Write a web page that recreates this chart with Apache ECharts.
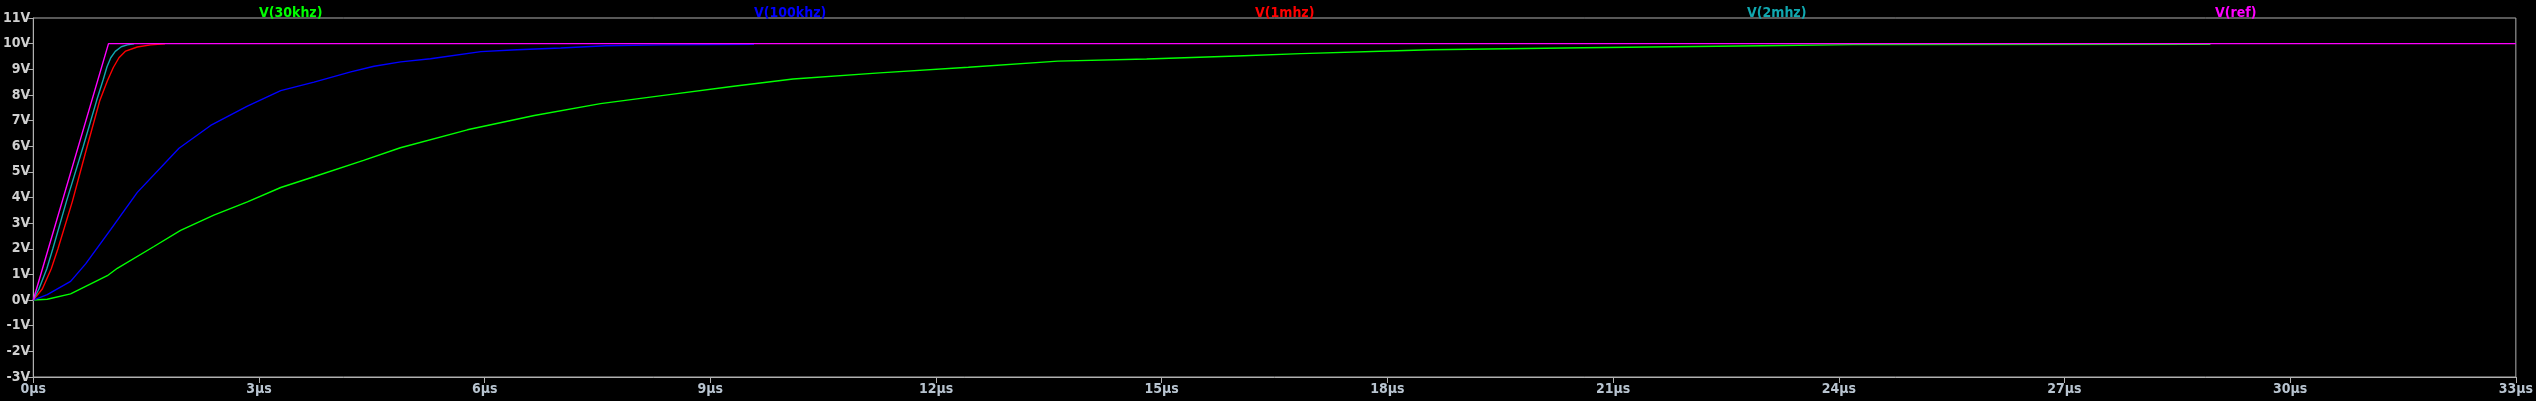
<!DOCTYPE html>
<html>
<head>
<meta charset="utf-8">
<script src="https://cdn.jsdelivr.net/npm/echarts@6/dist/echarts.min.js"></script>
<style>
html,body{margin:0;padding:0;background:#000;}
#c{width:2536px;height:401px;}
</style>
</head>
<body>
<div id="c"></div>
<script>
// ---- data (time in µs, voltage in V) ----
const xTicks = [0, 3, 6, 9, 12, 15, 18, 21, 24, 27, 30, 33];
const yTicks = [-3, -2, -1, 0, 1, 2, 3, 4, 5, 6, 7, 8, 9, 10, 11];

const names = ['V(30khz)', 'V(100khz)', 'V(1mhz)', 'V(2mhz)', 'V(ref)'];

const t30k = [0, .186, .496, .984, 1.117, 1.604, 1.958, 2.4, 2.846, 3.29, 3.73, 4.40, 4.88, 5.77, 6.66, 7.54, 8.43, 9.31, 10.1, 11.25, 12.43, 13.62, 14.8, 16.0, 16.85, 18.13, 18.58, 20.6, 22.98, 24.19, 28.94];
const v30k = [0, .03, .24, .95, 1.24, 2.09, 2.72, 3.31, 3.83, 4.39, 4.81, 5.46, 5.94, 6.64, 7.20, 7.66, 8.0, 8.34, 8.62, 8.86, 9.08, 9.32, 9.40, 9.52, 9.61, 9.72, 9.76, 9.84, 9.92, 9.96, 9.97];

const t100k = [0, .186, .496, .696, 1.028, 1.383, 1.937, 2.358, 2.846, 3.289, 3.732, 4.22, 4.53, 4.884, 5.28, 5.95, 6.43, 7.01, 7.61, 8.36, 9.58];
const v100k = [0, .21, .73, 1.41, 2.75, 4.2, 5.92, 6.81, 7.56, 8.17, 8.50, 8.90, 9.12, 9.29, 9.41, 9.69, 9.76, 9.83, 9.92, 9.95, 9.97];

const t1m = [0, .12, .239, .328, .519, .718, .882, .984, 1.064, 1.139, 1.228, 1.383, 1.56, 1.751];
const v1m = [0, .43, 1.22, 2.0, 3.84, 6.01, 7.76, 8.54, 9.07, 9.45, 9.71, 9.87, 9.95, 9.99];

const t2m = [0, .075, .18, .26, .44, .665, .84, .93, .98, 1.03, 1.09, 1.17, 1.25, 1.34];
const v2m = [0, .43, 1.22, 2.0, 3.84, 6.0, 7.76, 8.6, 9.1, 9.45, 9.7, 9.88, 9.95, 9.99];

const tRef = [0, 1, 33];
const vRef = [0, 10, 10];

// ---- styling ----
const colors = ['#00ff00', '#0000ff', '#ff0000', '#10a8b0', '#ff00ff'];
const legendLeft = [254, 749, 1250, 1742, 2210];
const FONT = "'Liberation Sans Narrow', 'DejaVu Sans Condensed', 'Arial Narrow', sans-serif";

const zip = (t, v) => t.map((x, i) => [x, v[i]]);
const seriesData = [zip(t30k, v30k), zip(t100k, v100k), zip(t1m, v1m), zip(t2m, v2m), zip(tRef, vRef)];

const chart = echarts.init(document.getElementById('c'), null, {renderer: 'canvas'});
chart.setOption({
  animation: false,
  backgroundColor: '#000',
  legend: names.map((n, i) => ({
    left: legendLeft[i] - 5,
    top: 1,
    icon: 'none',
    itemWidth: 0,
    itemHeight: 0,
    selectedMode: false,
    data: [{name: n, textStyle: {color: colors[i]}}],
    textStyle: {fontFamily: FONT, fontSize: 14, fontWeight: 'bold'}
  })),
  grid: {
    left: 33, right: 16, top: 18, bottom: 24,
    show: true, borderColor: '#b0b0b0', borderWidth: 1, backgroundColor: '#000'
  },
  xAxis: {
    type: 'value',
    min: xTicks[0], max: xTicks[xTicks.length - 1], interval: 3,
    axisLine: {show: true, onZero: false, lineStyle: {color: '#b0b0b0', width: 1}},
    axisTick: {show: true, length: 6, lineStyle: {color: '#b0b0b0'}},
    splitLine: {show: false},
    axisLabel: {
      formatter: v => v + 'µs', color: '#b8c4d0', fontFamily: FONT, fontSize: 14,
      fontWeight: 'bold', margin: 5
    }
  },
  yAxis: {
    type: 'value',
    min: yTicks[0], max: yTicks[yTicks.length - 1], interval: 1,
    axisLine: {show: true, onZero: false, lineStyle: {color: '#b0b0b0', width: 1}},
    axisTick: {show: true, length: 5, lineStyle: {color: '#b0b0b0'}},
    splitLine: {show: false},
    axisLabel: {
      formatter: v => v + 'V', color: '#d0d0d0', fontFamily: FONT, fontSize: 14,
      fontWeight: 'bold', margin: 3
    }
  },
  series: names.map((n, i) => ({
    name: n,
    type: 'line',
    data: seriesData[i],
    showSymbol: false,
    symbol: 'none',
    smooth: false,
    color: colors[i],
    lineStyle: {color: colors[i], width: 1.4},
    z: 2 + i
  }))
});
</script>
</body>
</html>
